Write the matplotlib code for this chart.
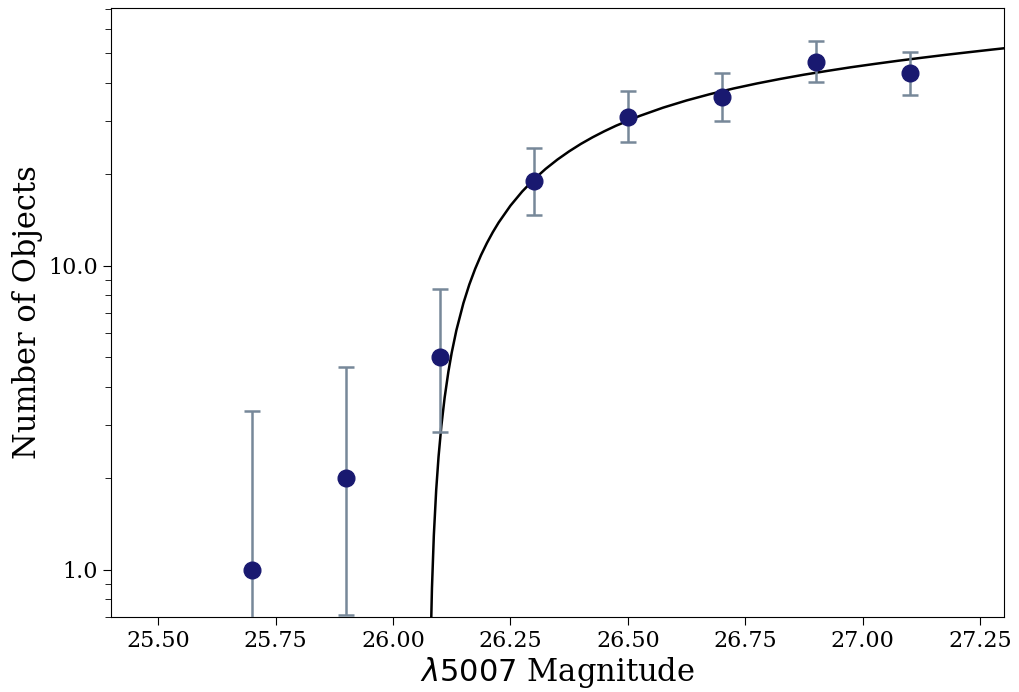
import matplotlib
matplotlib.use("Agg")
import matplotlib.pyplot as plt
from matplotlib.ticker import FormatStrFormatter, MultipleLocator, LogLocator, NullFormatter

plt.rcParams['font.family'] = 'DejaVu Serif'

# binned counts (magnitude bin centres) with asymmetric Poisson limits
mag = [25.7, 25.9, 26.1, 26.3, 26.5, 26.7, 26.9, 27.1]
counts = [1, 2, 5, 19, 31, 36, 47, 43]
lower = [0.17, 0.71, 2.85, 14.7, 25.5, 30.0, 40.2, 36.5]
upper = [3.32, 4.66, 8.40, 24.4, 37.6, 43.1, 54.9, 50.6]

# fitted luminosity function curve
fit_mag = [26.076, 26.078, 26.080, 26.083, 26.087, 26.092, 26.097, 26.103,
           26.110, 26.118, 26.125, 26.135, 26.150, 26.1625, 26.175, 26.1875,
           26.200, 26.2125, 26.225, 26.250, 26.275, 26.300, 26.325, 26.350,
           26.375, 26.400, 26.425, 26.450, 26.475, 26.525, 26.575, 26.625,
           26.675, 26.725, 26.775, 26.825, 26.875, 26.925, 26.975, 27.025,
           27.075, 27.125, 27.175, 27.225, 27.275, 27.300]
fit_n = [0.110, 0.328, 0.546, 0.870, 1.299, 1.829, 2.353, 2.974,
         3.687, 4.489, 5.177, 6.141, 7.546, 8.681, 9.782, 10.852,
         11.89, 12.905, 13.89, 15.775, 17.56, 19.25, 20.85, 22.37,
         23.81, 25.19, 26.49, 27.73, 28.92, 31.13, 33.15, 35.01,
         36.73, 38.33, 39.82, 41.22, 42.56, 43.80, 45.02, 46.16,
         47.28, 48.36, 49.42, 50.44, 51.46, 51.96]

fig = plt.figure(figsize=(10.19, 6.92), dpi=100)
ax = fig.add_axes([0.109, 0.1084, 0.876, 0.88])

ax.plot(fit_mag, fit_n, color='black', lw=1.8, zorder=2)

yerr = [[c - lo for c, lo in zip(counts, lower)],
        [up - c for c, up in zip(counts, upper)]]
ax.errorbar(mag, counts, yerr=yerr, fmt='o', color='midnightblue',
            ecolor='lightslategray', elinewidth=1.8, capsize=6, capthick=1.8,
            markersize=12, zorder=3)

ax.set_yscale('log')
ax.set_xlim(25.4, 27.3)
ax.set_ylim(0.7, 70.5)

ax.xaxis.set_major_locator(MultipleLocator(0.25))
ax.xaxis.set_major_formatter(FormatStrFormatter('%.2f'))
ax.yaxis.set_major_locator(LogLocator(base=10))
ax.yaxis.set_major_formatter(FormatStrFormatter('%.1f'))
ax.yaxis.set_minor_formatter(NullFormatter())

ax.tick_params(axis='both', which='major', labelsize=16, length=6)
ax.tick_params(axis='y', which='minor', length=4)

ax.set_xlabel(r'$\lambda5007$ Magnitude', fontsize=22, labelpad=2)
ax.set_ylabel('Number of Objects', fontsize=22, labelpad=4)

fig.savefig('out.png', dpi=100)
